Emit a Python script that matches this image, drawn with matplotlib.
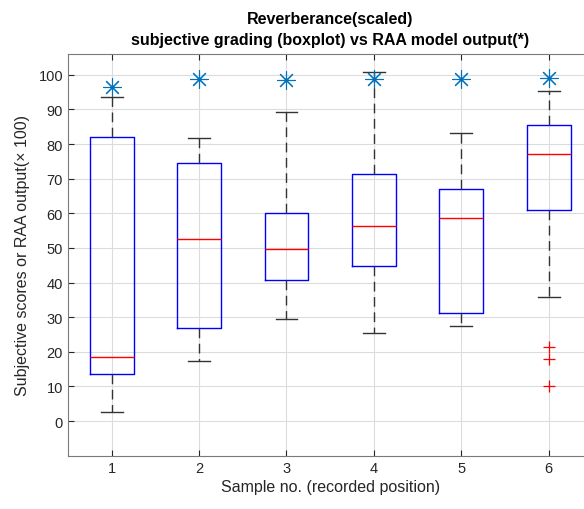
import matplotlib
matplotlib.use("Agg")
import matplotlib.pyplot as plt

# ─── Data ─────────────────────────────────────────────────────────────────────
samples   = [1, 2, 3, 4, 5, 6]
whisk_lo  = [2.6, 17.3, 29.6, 25.4, 27.4, 35.8]
q1        = [13.5, 26.9, 40.6, 44.9, 31.2, 61.0]
medians   = [18.4, 52.6, 49.8, 56.3, 58.7, 77.1]
q3        = [82.0, 74.6, 60.2, 71.3, 67.0, 85.5]
whisk_hi  = [93.7, 81.6, 89.2, 100.7, 83.3, 95.4]
outliers  = [[], [], [], [], [], [21.4, 18.0, 10.2]]
raa_model = [96.6, 98.8, 98.6, 98.8, 98.8, 99.0]

# ─── Style ────────────────────────────────────────────────────────────────────
plt.rcParams.update({
    "font.family": ["Liberation Sans", "DejaVu Sans"],
    "axes.edgecolor": "#7a7a7a",
    "xtick.color": "#262626",
    "ytick.color": "#262626",
})

fig = plt.figure(figsize=(5.84, 5.10), dpi=100)
ax = fig.add_axes([0.1164, 0.1045, 0.898, 0.7877])

stats = []
for i in range(len(samples)):
    stats.append({
        "whislo": whisk_lo[i], "q1": q1[i], "med": medians[i],
        "q3": q3[i], "whishi": whisk_hi[i], "fliers": outliers[i],
    })

ax.bxp(stats, positions=samples, widths=0.5, showfliers=True,
       boxprops=dict(color="#0000ff", lw=1.0),
       medianprops=dict(color="#ff0000", lw=1.0),
       whiskerprops=dict(color="#333333", lw=1.0, ls=(0, (7, 4))),
       capprops=dict(color="#333333", lw=1.0),
       capwidths=0.25,
       flierprops=dict(marker="+", markeredgecolor="#ff0000", markersize=8,
                       markeredgewidth=0.9, linestyle="none"))

ax.plot(samples, raa_model, linestyle="none", marker=(8, 2, 0),
        markersize=13, markeredgewidth=0.8, color="#0072BD", zorder=5)

ax.set_xlim(0.5, 6.5)
ax.set_ylim(-10, 106)
ax.set_xticks(samples)
ax.set_xticklabels([str(s) for s in samples])
ax.set_yticks(range(0, 101, 10))
ax.tick_params(direction="in", labelsize=10.5, top=True, right=True, length=4)
ax.grid(True, color="#dcdcdc", lw=0.8)
ax.set_axisbelow(True)

ax.set_xlabel("Sample no. (recorded position)", fontsize=11.5, color="#262626",
              labelpad=3)
ax.set_ylabel("Subjective scores or RAA output(\u00d7 100)", fontsize=11.5,
              color="#262626", labelpad=6)
ax.set_title("Reverberance(scaled)\nsubjective grading (boxplot) vs RAA model output(*)",
             fontsize=11.5, fontweight="bold", pad=7, linespacing=1.5)

fig.savefig("out.png", dpi=100)
